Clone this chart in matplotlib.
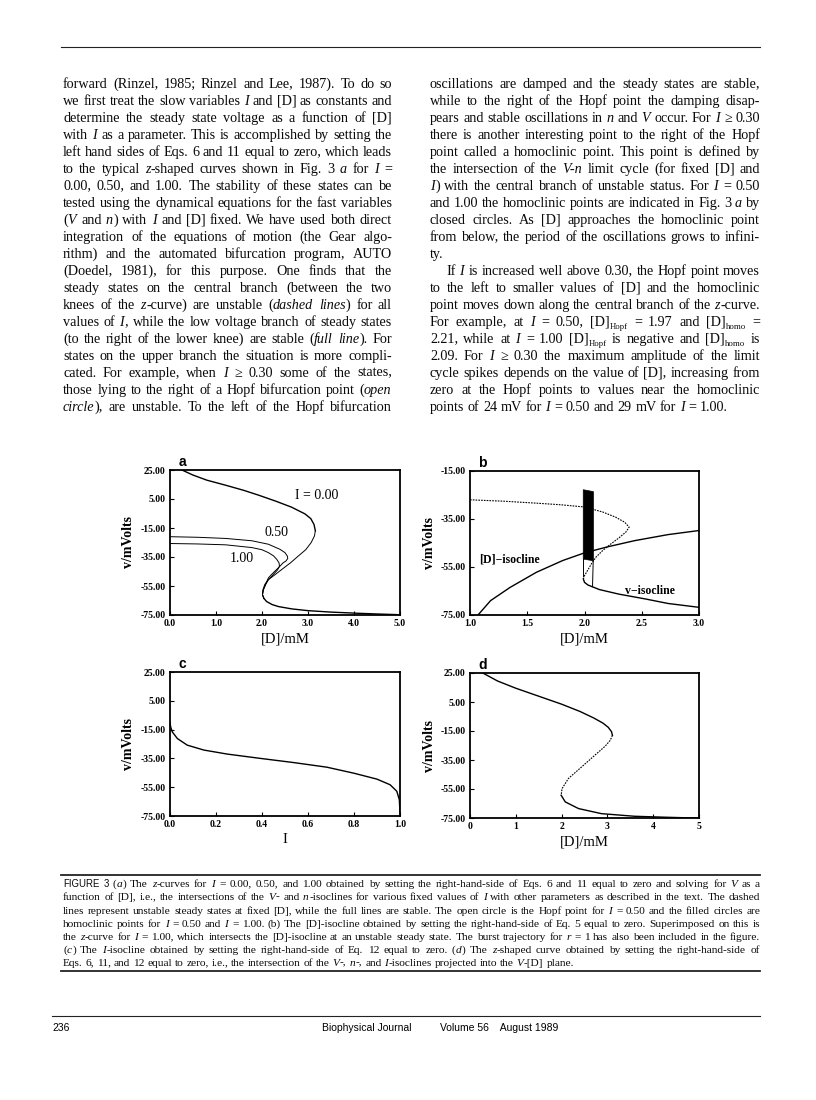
import re
import math
import matplotlib.pyplot as plt

W, H = 816, 1100
SERIF = 'Liberation Serif'
SANS = 'Liberation Sans'

# ---------------- text of the page ----------------
left_col = [
    "forward (Rinzel, 1985; Rinzel and Lee, 1987). To do so",
    "we first treat the slow variables *I* and [D] as constants and",
    "determine the steady state voltage as a function of [D]",
    "with *I* as a parameter. This is accomplished by setting the",
    "left hand sides of Eqs. 6 and 11 equal to zero, which leads",
    "to the typical *z*-shaped curves shown in Fig. 3 *a* for *I* =",
    "0.00, 0.50, and 1.00. The stability of these states can be",
    "tested using the dynamical equations for the fast variables",
    "(*V* and *n*) with *I* and [D] fixed. We have used both direct",
    "integration of the equations of motion (the Gear algo-",
    "rithm) and the automated bifurcation program, AUTO",
    "(Doedel, 1981), for this purpose. One finds that the",
    "steady states on the central branch (between the two",
    "knees of the *z*-curve) are unstable (*dashed* *lines*) for all",
    "values of *I*, while the low voltage branch of steady states",
    "(to the right of the lower knee) are stable (*full* *line*). For",
    "states on the upper branch the situation is more compli-",
    "cated. For example, when *I* ≥ 0.30 some of the states,",
    "those lying to the right of a Hopf bifurcation point (*open*",
    "*circle*), are unstable. To the left of the Hopf bifurcation",
]
right_col = [
    "oscillations are damped and the steady states are stable,",
    "while to the right of the Hopf point the damping disap-",
    "pears and stable oscillations in *n* and *V* occur. For *I* ≥ 0.30",
    "there is another interesting point to the right of the Hopf",
    "point called a homoclinic point. This point is defined by",
    "the intersection of the *V-n* limit cycle (for fixed [D] and",
    "*I*) with the central branch of unstable status. For *I* = 0.50",
    "and 1.00 the homoclinic points are indicated in Fig. 3 *a* by",
    "closed circles. As [D] approaches the homoclinic point",
    "from below, the period of the oscillations grows to infini-",
    "ty.",
    "If *I* is increased well above 0.30, the Hopf point moves",
    "to the left to smaller values of [D] and the homoclinic",
    "point moves down along the central branch of the *z*-curve.",
    "For example, at *I* = 0.50, [D]_{Hopf} = 1.97 and [D]_{homo} =",
    "2.21, while at *I* = 1.00 [D]_{Hopf} is negative and [D]_{homo} is",
    "2.09. For *I* ≥ 0.30 the maximum amplitude of the limit",
    "cycle spikes depends on the value of [D], increasing from",
    "zero at the Hopf points to values near the homoclinic",
    "points of 24 mV for *I* = 0.50 and 29 mV for *I* = 1.00.",
]
right_last = {10, 19}
right_indent = {11}

caption = [
    "#FIGURE# #3# (*a*) The *z*-curves for *I* = 0.00, 0.50, and 1.00 obtained by setting the right-hand-side of Eqs. 6 and 11 equal to zero and solving for *V* as a",
    "function of [D], i.e., the intersections of the *V*- and *n*-isoclines for various fixed values of *I* with other parameters as described in the text. The dashed",
    "lines represent unstable steady states at fixed [D], while the full lines are stable. The open circle is the Hopf point for *I* = 0.50 and the filled circles are",
    "homoclinic points for *I* = 0.50 and *I* = 1.00. (b) The [D]-isocline obtained by setting the right-hand-side of Eq. 5 equal to zero. Superimposed on this is",
    "the *z*-curve for *I* = 1.00, which intersects the [D]-isocline at an unstable steady state. The burst trajectory for *r* = 1 has also been included in the figure.",
    "(*c*) The *I*-isocline obtained by setting the right-hand-side of Eq. 12 equal to zero. (*d*) The *z*-shaped curve obtained by setting the right-hand-side of",
    "Eqs. 6, 11, and 12 equal to zero, i.e., the intersection of the *V*-, *n*-, and *I*-isoclines projected into the *V*-[D] plane.",
]

# ---------------- data ----------------
# panel a: z-curves, [D] (mM) vs V (mV)
a_low_D = [2.04, 2.10, 2.22, 2.36, 2.65, 3.0, 3.5, 4.08, 4.5, 5.0]
a_low_V = [-63.5, -65.7, -67.8, -69.2, -70.8, -72.0, -73.0, -73.8, -74.3, -74.8]
a0_up_D = [0.26, 0.5, 0.8, 1.21, 1.6, 1.93, 2.3, 2.64, 2.93, 3.06, 3.13, 3.16]
a0_up_V = [25, 21.5, 18.0, 14.5, 11, 7.6, 3.5, -0.6, -5.2, -8.5, -12.5, -16.9]
a0_mid_D = [3.16, 3.14, 3.07, 2.95, 2.79, 2.62, 2.43, 2.27, 2.14, 2.06, 2.02, 2.01, 2.04]
a0_mid_V = [-16.9, -20.5, -25, -30, -34.3, -39, -43.6, -47.5, -50.6, -54, -57.6, -61, -63.5]
a5_D = [0.0, 0.6, 1.21, 1.78, 2.14, 2.39, 2.50, 2.55, 2.56, 2.52, 2.46, 2.37, 2.28, 2.20, 2.14, 2.08, 2.03, 2.01, 2.04]
a5_V = [-21.0, -21.4, -22.2, -23.8, -26.2, -29.7, -32.0, -34.3, -36.0, -37.8, -39.0, -42.0, -44.8, -47.3, -49.4, -53.5, -57.6, -61, -63.5]
a1_D = [0.0, 0.6, 1.21, 1.78, 2.0, 2.14, 2.25, 2.32, 2.37, 2.38, 2.34, 2.28, 2.21, 2.14, 2.08, 2.03, 2.01, 2.04]
a1_V = [-25.7, -26.0, -26.6, -28.5, -30.0, -32.0, -34.2, -36.6, -39.0, -41.3, -43.8, -45.9, -48.3, -50.6, -54, -57.6, -61, -63.5]

# panel b
b_zup_D = [1.0, 1.3, 1.58, 1.8, 2.0, 2.16, 2.27, 2.35, 2.39, 2.36, 2.30, 2.23, 2.16, 2.10, 2.06, 2.03, 2.0, 1.99]
b_zup_V = [-27.0, -27.6, -28.4, -29.1, -30.0, -32.1, -34.2, -36.3, -38.4, -40.5, -42.9, -45.4, -48.1, -50.9, -53.7, -56.2, -58.6, -60.0]
b_zlow_D = [1.99, 2.0, 2.03, 2.13, 2.30, 2.53, 2.73, 3.0]
b_zlow_V = [-60.0, -61.4, -62.5, -64.4, -66.3, -68.3, -70.2, -71.8]
b_iso_D = [1.07, 1.18, 1.35, 1.58, 1.81, 2.0, 2.21, 2.44, 2.73, 3.0]
b_iso_V = [-75.0, -69.0, -63.5, -57.2, -52.3, -49.1, -46.5, -44.0, -41.5, -39.8]
b_burst_D = [1.989, 2.078, 2.078, 1.989]
b_burst_V = [-22.8, -23.6, -52.4, -51.7]
b_trajL_D = [1.989, 1.989]
b_trajL_V = [-51.7, -58.8]
b_trajR_D = [2.076, 2.07]
b_trajR_V = [-52.4, -63.2]

# panel c: I-isocline
c_I = [0.0, 0.003, 0.010, 0.032, 0.075, 0.147, 0.249, 0.393, 0.538, 0.682, 0.80, 0.90, 0.957, 0.986, 0.997, 1.0]
c_V = [-10.0, -13.2, -16.6, -21.2, -25.8, -29.2, -32.0, -35.0, -37.9, -41.1, -45.3, -49.4, -53.3, -57.8, -63.6, -72.7]

# panel d
d_up_D = [0.28, 0.6, 1.0, 1.5, 2.0, 2.4, 2.7, 2.9, 3.02, 3.09, 3.11]
d_up_V = [25.0, 19.5, 14.5, 9.0, 3.5, -1.5, -6.0, -9.5, -12.5, -15.5, -18.0]
d_mid_D = [3.11, 3.06, 2.95, 2.73, 2.44, 2.15, 2.01, 1.99]
d_mid_V = [-18.0, -21.5, -25.5, -31.6, -39.7, -47.7, -54.7, -59.3]
d_low_D = [1.99, 2.08, 2.37, 2.87, 3.59, 4.30, 4.88, 5.0]
d_low_V = [-59.3, -63.9, -68.5, -72.0, -73.8, -74.5, -75.0, -75.0]

yt_full = [25, 5, -15, -35, -55, -75]
ytl_full = ['25.00', '5.00', '-15.00', '-35.00', '-55.00', '-75.00']
yt_b = [-15, -35, -55, -75]
ytl_b = ['-15.00', '-35.00', '-55.00', '-75.00']
xt_a = [0, 1, 2, 3, 4, 5]
xtl_a = ['0.0', '1.0', '2.0', '3.0', '4.0', '5.0']
xt_b = [1.0, 1.5, 2.0, 2.5, 3.0]
xtl_b = ['1.0', '1.5', '2.0', '2.5', '3.0']
xt_c = [0, 0.2, 0.4, 0.6, 0.8, 1.0]
xtl_c = ['0.0', '0.2', '0.4', '0.6', '0.8', '1.0']
xt_d = [0, 1, 2, 3, 4, 5]
xtl_d = ['0', '1', '2', '3', '4', '5']

# ---------------- page ----------------
fig = plt.figure(figsize=(W / 100, H / 100), dpi=100)
rend = fig.canvas.get_renderer()


def fx(x):
    return x / W


def fy(y):
    return 1 - y / H


def segs(word):
    # *x* italic, _{x} subscript, #x# sans
    out = []
    for p in re.split(r'(\*[^*]+\*|_\{[^}]+\}|#[^#]+#)', word):
        if not p:
            continue
        if p.startswith('*'):
            out.append((p[1:-1], 'i'))
        elif p.startswith('_{'):
            out.append((p[2:-1], 'sub'))
        elif p.startswith('#'):
            out.append((p[1:-1], 'sans'))
        else:
            out.append((p, 'n'))
    return out


def mk(s, kind, fs):
    kw = dict(fontsize=fs, family=SERIF, va='baseline', ha='left', color='#0a0a0a')
    if kind == 'i':
        kw['style'] = 'italic'
    elif kind == 'sub':
        kw['fontsize'] = fs * 0.62
    elif kind == 'sans':
        kw.update(family=SANS, fontsize=fs * 0.85)
    t = fig.text(0, 0, s, **kw)
    return t, t.get_window_extent(renderer=rend).width


def snap(t, yb):
    # keep the baselines of separate words on one pixel row
    _, _, d = rend.get_text_width_height_descent(t.get_text(), t.get_fontproperties(), ismath=False)
    return yb - (d - math.floor(d))


def put_line(line, x0, x1, yc, fs, justify=True, indent=0):
    items = []
    total = 0
    for wd in line.split():
        parts = []
        ww = 0
        for s, kind in segs(wd):
            t, w = mk(s, kind, fs)
            parts.append((t, kind, ww))
            ww += w + (0.4 if kind == 'i' else 0)
        items.append((parts, ww))
        total += ww
    x0 = x0 + indent
    if justify and len(items) > 1:
        gap = (x1 - x0 - total) / (len(items) - 1)
    else:
        gap = fs * 100 / 72 * 0.25
    yb = round(yc + fs * 0.38)
    x = x0
    for parts, ww in items:
        for t, kind, off in parts:
            dy = round(fs * 0.3) if kind == 'sub' else 0
            t.set_position((fx(x + off), fy(snap(t, yb + dy))))
        x += ww + gap


def hrule(y, x0, x1, lw):
    fig.add_artist(plt.Line2D([fx(x0), fx(x1)], [fy(y), fy(y)], color='#222222', lw=lw))


hrule(47, 61, 760, 0.8)
for i, ln in enumerate(left_col):
    put_line(ln, 63, 392, 84 + 17 * i, 10.2)
for i, ln in enumerate(right_col):
    put_line(ln, 430, 760, 84 + 17 * i, 10.2, justify=i not in right_last,
             indent=16 if i in right_indent else 0)

hrule(875, 61, 760, 1.3)
for i, ln in enumerate(caption):
    put_line(ln, 63, 760, 884 + 13.2 * i, 8.2, justify=i < len(caption) - 1)
hrule(971, 61, 760, 1.3)
hrule(1016, 52, 760, 0.8)
fig.text(fx(52), fy(1028), '236', family=SANS, fontsize=7.5, va='center', ha='left')
fig.text(fx(322), fy(1028), 'Biophysical Journal', family=SANS, fontsize=7.5, va='center', ha='left')
fig.text(fx(440), fy(1028), 'Volume 56    August 1989', family=SANS, fontsize=7.5, va='center', ha='left')


# ---------------- panels ----------------
def add_panel(x0, x1, y0, y1):
    return fig.add_axes([fx(x0), fy(y1), (x1 - x0) / W, (y1 - y0) / H])


def style_ax(ax, letter, xlim, ylim, xt, xtl, yt, ytl, xlab):
    ax.set_xlim(xlim)
    ax.set_ylim(ylim)
    ax.set_xticks(xt)
    ax.set_xticklabels(xtl)
    ax.set_yticks(yt)
    ax.set_yticklabels(ytl)
    for sp in ax.spines.values():
        sp.set_linewidth(1.3)
    ax.tick_params(direction='in', length=3, width=0.8, pad=3, labelsize=7)
    for lb in ax.get_xticklabels() + ax.get_yticklabels():
        lb.set_fontweight('bold')
        lb.set_family(SERIF)
    ax.text(-41 / 230, 0.5, 'v/mVolts', rotation=90, transform=ax.transAxes,
            ha='center', va='center', family=SERIF, fontweight='bold', fontsize=10)
    ax.text(0.5, -24 / 145, xlab, transform=ax.transAxes, ha='center', va='center',
            family=SERIF, fontsize=10.5)
    ax.text(0.055, 1.055, letter, transform=ax.transAxes, ha='center', va='center',
            family=SANS, fontweight='bold', fontsize=10)


k = dict(color='black', lw=1.0)
km = dict(color='black', lw=0.7)
dotted = dict(color='black', lw=0.8, ls=(0, (1.5, 1.0)))

ax = add_panel(170, 400, 470, 615)
ax.plot(a0_up_D, a0_up_V, **k)
ax.plot(a0_mid_D, a0_mid_V, **km)
ax.plot(a5_D, a5_V, **km)
ax.plot(a1_D, a1_V, **km)
ax.plot(a_low_D, a_low_V, **k)
ax.text(2.72, 7.6, 'I = 0.00', family=SERIF, fontsize=10, va='center')
ax.text(2.05, -18.0, '0.50', family=SERIF, fontsize=10, va='center')
ax.text(1.29, -36.1, '1.00', family=SERIF, fontsize=10, va='center')
style_ax(ax, 'a', (0, 5), (-75, 25), xt_a, xtl_a, yt_full, ytl_full, '[D]/mM')

ax = add_panel(470, 699, 471, 615)
ax.plot(b_zup_D, b_zup_V, **dotted)
ax.plot(b_zlow_D, b_zlow_V, **k)
ax.plot(b_iso_D, b_iso_V, **k)
ax.fill(b_burst_D, b_burst_V, color='black', lw=0.5)
ax.plot(b_trajL_D, b_trajL_V, **km)
ax.plot(b_trajR_D, b_trajR_V, **km)
ax.text(1.08, -51.7, '[D]−isocline', family=SERIF, fontweight='bold', fontsize=8.5, va='center')
ax.text(2.35, -65.0, 'v−isocline', family=SERIF, fontweight='bold', fontsize=8.5, va='center')
style_ax(ax, 'b', (1, 3), (-75, -15), xt_b, xtl_b, yt_b, ytl_b, '[D]/mM')

ax = add_panel(170, 400, 672, 816)
ax.plot(c_I, c_V, **k)
style_ax(ax, 'c', (0, 1), (-75, 25), xt_c, xtl_c, yt_full, ytl_full, 'I')

ax = add_panel(470, 699, 673, 818)
ax.plot(d_up_D, d_up_V, **k)
ax.plot(d_mid_D, d_mid_V, **dotted)
ax.plot(d_low_D, d_low_V, **k)
style_ax(ax, 'd', (0, 5), (-75, 25), xt_d, xtl_d, yt_full, ytl_full, '[D]/mM')

fig.savefig('out.png', dpi=100)
